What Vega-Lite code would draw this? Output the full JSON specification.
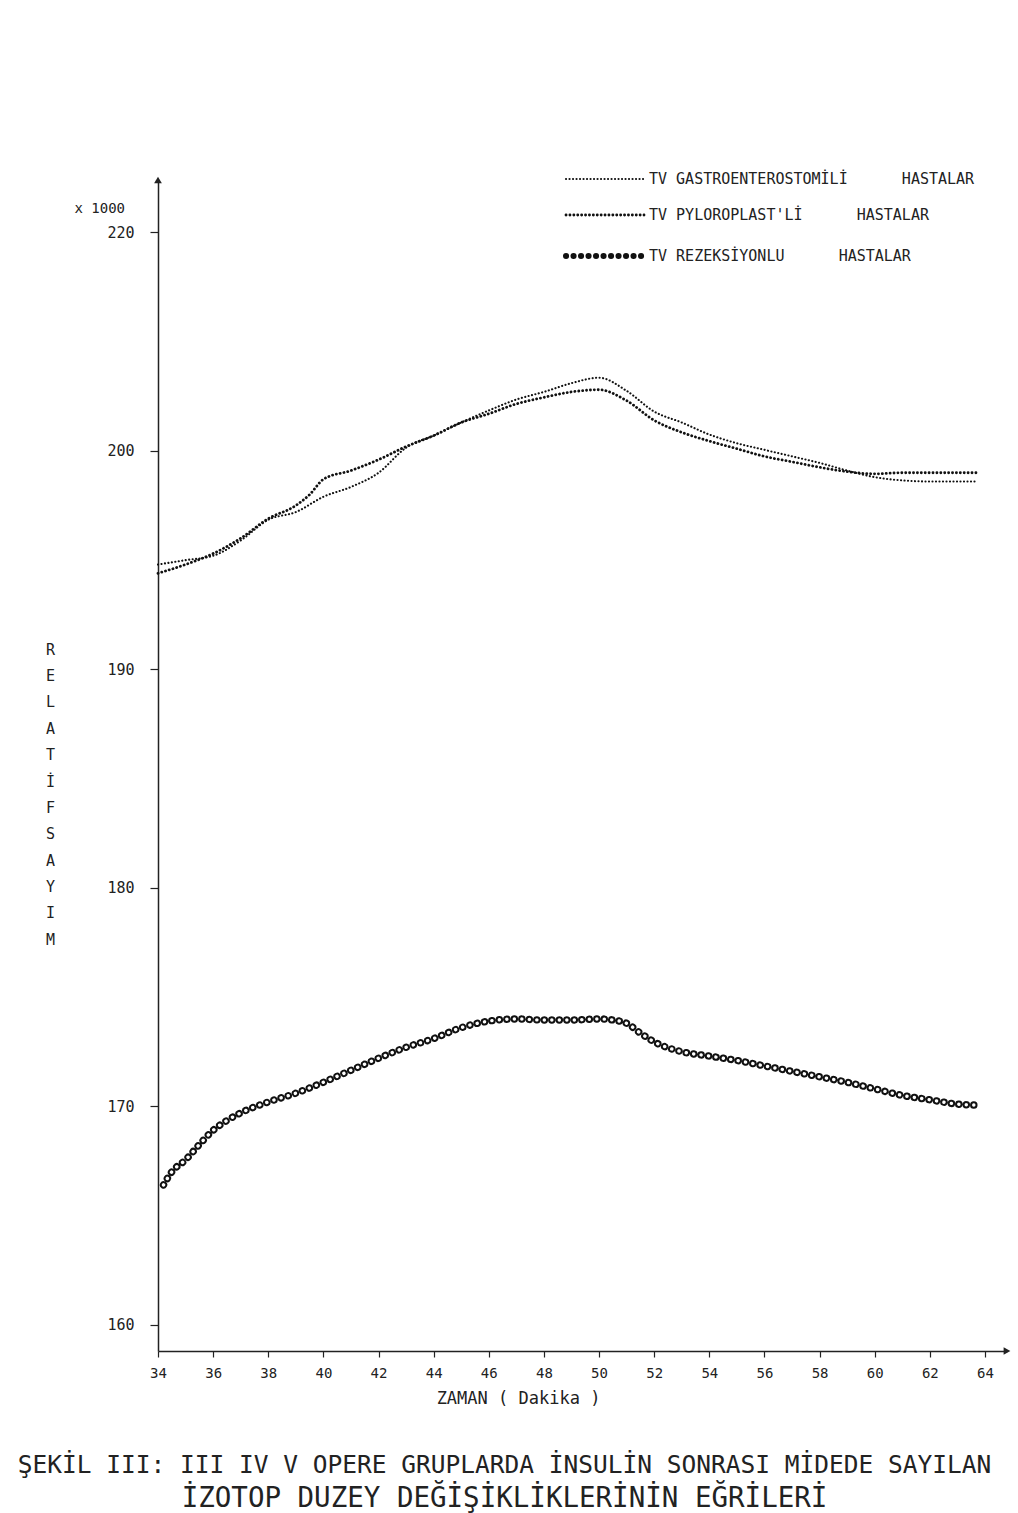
{
  "$schema": "https://vega.github.io/schema/vega-lite/v6.json",
  "autosize": "none",
  "width": 849,
  "height": 1171,
  "padding": {"left": 158, "top": 180, "right": 11, "bottom": 162},
  "background": "white",
  "config": {"view": {"stroke": null}, "font": "DejaVu Sans Mono"},
  "title": {
    "text": "ŞEKİL III: III IV V  OPERE GRUPLARDA İNSULİN SONRASI MİDEDE SAYILAN",
    "subtitle": "İZOTOP DUZEY DEĞİŞİKLİKLERİNİN EĞRİLERİ",
    "orient": "bottom",
    "anchor": "middle",
    "frame": "group",
    "dx": -78,
    "offset": 48,
    "font": "DejaVu Sans Mono",
    "fontSize": 24.5,
    "fontWeight": "normal",
    "color": "#222",
    "subtitleFont": "DejaVu Sans Mono",
    "subtitleFontSize": 27.5,
    "subtitleColor": "#222",
    "subtitlePadding": 6
  },
  "datasets": {
    "curves": [
      {"minute": 34, "count": 194.8, "group": "TV GASTROENTEROSTOMİLİ HASTALAR"},
      {"minute": 35, "count": 195.0, "group": "TV GASTROENTEROSTOMİLİ HASTALAR"},
      {"minute": 36, "count": 195.2, "group": "TV GASTROENTEROSTOMİLİ HASTALAR"},
      {"minute": 37, "count": 195.9, "group": "TV GASTROENTEROSTOMİLİ HASTALAR"},
      {"minute": 38, "count": 196.85, "group": "TV GASTROENTEROSTOMİLİ HASTALAR"},
      {"minute": 39, "count": 197.2, "group": "TV GASTROENTEROSTOMİLİ HASTALAR"},
      {"minute": 40, "count": 197.9, "group": "TV GASTROENTEROSTOMİLİ HASTALAR"},
      {"minute": 41, "count": 198.35, "group": "TV GASTROENTEROSTOMİLİ HASTALAR"},
      {"minute": 42, "count": 199.0, "group": "TV GASTROENTEROSTOMİLİ HASTALAR"},
      {"minute": 43, "count": 200.15, "group": "TV GASTROENTEROSTOMİLİ HASTALAR"},
      {"minute": 44, "count": 200.7, "group": "TV GASTROENTEROSTOMİLİ HASTALAR"},
      {"minute": 45, "count": 201.3, "group": "TV GASTROENTEROSTOMİLİ HASTALAR"},
      {"minute": 46, "count": 201.85, "group": "TV GASTROENTEROSTOMİLİ HASTALAR"},
      {"minute": 47, "count": 202.35, "group": "TV GASTROENTEROSTOMİLİ HASTALAR"},
      {"minute": 48, "count": 202.7, "group": "TV GASTROENTEROSTOMİLİ HASTALAR"},
      {"minute": 49, "count": 203.1, "group": "TV GASTROENTEROSTOMİLİ HASTALAR"},
      {"minute": 50, "count": 203.35, "group": "TV GASTROENTEROSTOMİLİ HASTALAR"},
      {"minute": 51, "count": 202.75, "group": "TV GASTROENTEROSTOMİLİ HASTALAR"},
      {"minute": 52, "count": 201.8, "group": "TV GASTROENTEROSTOMİLİ HASTALAR"},
      {"minute": 53, "count": 201.3, "group": "TV GASTROENTEROSTOMİLİ HASTALAR"},
      {"minute": 54, "count": 200.75, "group": "TV GASTROENTEROSTOMİLİ HASTALAR"},
      {"minute": 55, "count": 200.35, "group": "TV GASTROENTEROSTOMİLİ HASTALAR"},
      {"minute": 56, "count": 200.05, "group": "TV GASTROENTEROSTOMİLİ HASTALAR"},
      {"minute": 57, "count": 199.75, "group": "TV GASTROENTEROSTOMİLİ HASTALAR"},
      {"minute": 58, "count": 199.45, "group": "TV GASTROENTEROSTOMİLİ HASTALAR"},
      {"minute": 59, "count": 199.1, "group": "TV GASTROENTEROSTOMİLİ HASTALAR"},
      {"minute": 60, "count": 198.8, "group": "TV GASTROENTEROSTOMİLİ HASTALAR"},
      {"minute": 61, "count": 198.65, "group": "TV GASTROENTEROSTOMİLİ HASTALAR"},
      {"minute": 62, "count": 198.6, "group": "TV GASTROENTEROSTOMİLİ HASTALAR"},
      {"minute": 63, "count": 198.6, "group": "TV GASTROENTEROSTOMİLİ HASTALAR"},
      {"minute": 63.7, "count": 198.6, "group": "TV GASTROENTEROSTOMİLİ HASTALAR"},
      {"minute": 34, "count": 194.4, "group": "TV PYLOROPLAST'Lİ HASTALAR"},
      {"minute": 35, "count": 194.8, "group": "TV PYLOROPLAST'Lİ HASTALAR"},
      {"minute": 36, "count": 195.3, "group": "TV PYLOROPLAST'Lİ HASTALAR"},
      {"minute": 37, "count": 196.0, "group": "TV PYLOROPLAST'Lİ HASTALAR"},
      {"minute": 38, "count": 196.9, "group": "TV PYLOROPLAST'Lİ HASTALAR"},
      {"minute": 39, "count": 197.5, "group": "TV PYLOROPLAST'Lİ HASTALAR"},
      {"minute": 39.5, "count": 198.0, "group": "TV PYLOROPLAST'Lİ HASTALAR"},
      {"minute": 40, "count": 198.7, "group": "TV PYLOROPLAST'Lİ HASTALAR"},
      {"minute": 41, "count": 199.1, "group": "TV PYLOROPLAST'Lİ HASTALAR"},
      {"minute": 42, "count": 199.6, "group": "TV PYLOROPLAST'Lİ HASTALAR"},
      {"minute": 43, "count": 200.2, "group": "TV PYLOROPLAST'Lİ HASTALAR"},
      {"minute": 44, "count": 200.7, "group": "TV PYLOROPLAST'Lİ HASTALAR"},
      {"minute": 45, "count": 201.3, "group": "TV PYLOROPLAST'Lİ HASTALAR"},
      {"minute": 46, "count": 201.7, "group": "TV PYLOROPLAST'Lİ HASTALAR"},
      {"minute": 47, "count": 202.15, "group": "TV PYLOROPLAST'Lİ HASTALAR"},
      {"minute": 48, "count": 202.45, "group": "TV PYLOROPLAST'Lİ HASTALAR"},
      {"minute": 49, "count": 202.7, "group": "TV PYLOROPLAST'Lİ HASTALAR"},
      {"minute": 50, "count": 202.8, "group": "TV PYLOROPLAST'Lİ HASTALAR"},
      {"minute": 51, "count": 202.3, "group": "TV PYLOROPLAST'Lİ HASTALAR"},
      {"minute": 52, "count": 201.4, "group": "TV PYLOROPLAST'Lİ HASTALAR"},
      {"minute": 53, "count": 200.85, "group": "TV PYLOROPLAST'Lİ HASTALAR"},
      {"minute": 54, "count": 200.45, "group": "TV PYLOROPLAST'Lİ HASTALAR"},
      {"minute": 55, "count": 200.1, "group": "TV PYLOROPLAST'Lİ HASTALAR"},
      {"minute": 56, "count": 199.75, "group": "TV PYLOROPLAST'Lİ HASTALAR"},
      {"minute": 57, "count": 199.5, "group": "TV PYLOROPLAST'Lİ HASTALAR"},
      {"minute": 58, "count": 199.25, "group": "TV PYLOROPLAST'Lİ HASTALAR"},
      {"minute": 59, "count": 199.05, "group": "TV PYLOROPLAST'Lİ HASTALAR"},
      {"minute": 60, "count": 198.95, "group": "TV PYLOROPLAST'Lİ HASTALAR"},
      {"minute": 61, "count": 199.0, "group": "TV PYLOROPLAST'Lİ HASTALAR"},
      {"minute": 62, "count": 199.0, "group": "TV PYLOROPLAST'Lİ HASTALAR"},
      {"minute": 63, "count": 199.0, "group": "TV PYLOROPLAST'Lİ HASTALAR"},
      {"minute": 63.7, "count": 199.0, "group": "TV PYLOROPLAST'Lİ HASTALAR"},
      {"minute": 34.2, "count": 166.4, "group": "TV REZEKSİYONLU HASTALAR"},
      {"minute": 34.5, "count": 167.0, "group": "TV REZEKSİYONLU HASTALAR"},
      {"minute": 35, "count": 167.55, "group": "TV REZEKSİYONLU HASTALAR"},
      {"minute": 35.5, "count": 168.25, "group": "TV REZEKSİYONLU HASTALAR"},
      {"minute": 36, "count": 168.9, "group": "TV REZEKSİYONLU HASTALAR"},
      {"minute": 36.5, "count": 169.35, "group": "TV REZEKSİYONLU HASTALAR"},
      {"minute": 37, "count": 169.7, "group": "TV REZEKSİYONLU HASTALAR"},
      {"minute": 38, "count": 170.2, "group": "TV REZEKSİYONLU HASTALAR"},
      {"minute": 39, "count": 170.6, "group": "TV REZEKSİYONLU HASTALAR"},
      {"minute": 40, "count": 171.1, "group": "TV REZEKSİYONLU HASTALAR"},
      {"minute": 41, "count": 171.65, "group": "TV REZEKSİYONLU HASTALAR"},
      {"minute": 42, "count": 172.2, "group": "TV REZEKSİYONLU HASTALAR"},
      {"minute": 43, "count": 172.7, "group": "TV REZEKSİYONLU HASTALAR"},
      {"minute": 44, "count": 173.1, "group": "TV REZEKSİYONLU HASTALAR"},
      {"minute": 45, "count": 173.6, "group": "TV REZEKSİYONLU HASTALAR"},
      {"minute": 46, "count": 173.9, "group": "TV REZEKSİYONLU HASTALAR"},
      {"minute": 47, "count": 174.0, "group": "TV REZEKSİYONLU HASTALAR"},
      {"minute": 48, "count": 173.95, "group": "TV REZEKSİYONLU HASTALAR"},
      {"minute": 49, "count": 173.95, "group": "TV REZEKSİYONLU HASTALAR"},
      {"minute": 50, "count": 174.0, "group": "TV REZEKSİYONLU HASTALAR"},
      {"minute": 50.5, "count": 173.95, "group": "TV REZEKSİYONLU HASTALAR"},
      {"minute": 51, "count": 173.8, "group": "TV REZEKSİYONLU HASTALAR"},
      {"minute": 51.5, "count": 173.35, "group": "TV REZEKSİYONLU HASTALAR"},
      {"minute": 52, "count": 172.95, "group": "TV REZEKSİYONLU HASTALAR"},
      {"minute": 53, "count": 172.5, "group": "TV REZEKSİYONLU HASTALAR"},
      {"minute": 54, "count": 172.3, "group": "TV REZEKSİYONLU HASTALAR"},
      {"minute": 55, "count": 172.1, "group": "TV REZEKSİYONLU HASTALAR"},
      {"minute": 56, "count": 171.85, "group": "TV REZEKSİYONLU HASTALAR"},
      {"minute": 57, "count": 171.6, "group": "TV REZEKSİYONLU HASTALAR"},
      {"minute": 58, "count": 171.35, "group": "TV REZEKSİYONLU HASTALAR"},
      {"minute": 59, "count": 171.1, "group": "TV REZEKSİYONLU HASTALAR"},
      {"minute": 60, "count": 170.8, "group": "TV REZEKSİYONLU HASTALAR"},
      {"minute": 61, "count": 170.5, "group": "TV REZEKSİYONLU HASTALAR"},
      {"minute": 62, "count": 170.3, "group": "TV REZEKSİYONLU HASTALAR"},
      {"minute": 63, "count": 170.1, "group": "TV REZEKSİYONLU HASTALAR"},
      {"minute": 63.8, "count": 170.05, "group": "TV REZEKSİYONLU HASTALAR"}
    ]
  },
  "layer": [
    {
      "data": {"name": "curves"},
      "mark": {"type": "line", "interpolate": "monotone", "color": "#111", "strokeCap": "round"},
      "encoding": {
        "x": {
          "field": "minute", "type": "quantitative",
          "scale": {"domain": [34, 64.8], "nice": false, "zero": false},
          "axis": {
            "values": [34, 36, 38, 40, 42, 44, 46, 48, 50, 52, 54, 56, 58, 60, 62, 64],
            "format": "d",
            "grid": false,
            "labelFlush": false,
            "domainColor": "#222", "domainWidth": 1.5,
            "tickColor": "#222", "tickSize": 6, "tickWidth": 1.2,
            "labelFont": "DejaVu Sans Mono", "labelFontSize": 14, "labelPadding": 9, "labelColor": "#222",
            "title": "ZAMAN ( Dakika )",
            "titleFont": "DejaVu Sans Mono",
            "titleFontSize": 17, "titleFontWeight": "normal", "titleColor": "#222",
            "titleAlign": "center", "titleBaseline": "middle",
            "titleX": 360, "titleY": 47
          }
        },
        "y": {
          "field": "count", "type": "quantitative",
          "scale": {"domain": [158.8, 212.4], "nice": false, "zero": false},
          "axis": {
            "values": [160, 170, 180, 190, 200, 210],
            "labelExpr": "datum.value == 210 ? '220' : datum.label",
            "grid": false,
            "domainColor": "#222", "domainWidth": 1.5,
            "tickColor": "#222", "tickSize": 8, "tickWidth": 1.2,
            "labelFont": "DejaVu Sans Mono", "labelFontSize": 15, "labelPadding": 16, "labelColor": "#222",
            "title": ["R", "E", "L", "A", "T", "İ", "F", "S", "A", "Y", "I", "M"],
            "titleFont": "DejaVu Sans Mono",
            "titleAngle": 0, "titleAlign": "center", "titleBaseline": "top",
            "titleX": -108, "titleY": 462, "titleLineHeight": 26.4,
            "titleFontSize": 15, "titleFontWeight": "normal", "titleColor": "#222"
          }
        },
        "strokeDash": {
          "field": "group", "type": "nominal",
          "scale": {
            "domain": ["TV GASTROENTEROSTOMİLİ HASTALAR", "TV PYLOROPLAST'Lİ HASTALAR", "TV REZEKSİYONLU HASTALAR"],
            "range": [[0.1, 3.4], [0.1, 3.8], [0.1, 7.4]]
          },
          "legend": {
            "orient": "none", "legendX": 439.5, "legendY": -8.5,
            "title": null, "symbolType": "M-2,0H2", "symbolSize": 1521,
            "symbolStrokeColor": "#111", "symbolFillColor": "transparent",
            "labelFont": "DejaVu Sans Mono", "labelFontSize": 15, "labelColor": "#222",
            "labelOffset": 36.5, "rowPadding": 20, "labelLimit": 0,
            "labelExpr": "replace(datum.label, ' HASTALAR', '\u00a0\u00a0\u00a0\u00a0\u00a0\u00a0HASTALAR')",
            "encode": {"symbols": {"update": {
              "strokeCap": {"value": "round"},
              "strokeWidth": {"signal": "datum.value == 'TV REZEKSİYONLU HASTALAR' ? 6 : (datum.value == 'TV PYLOROPLAST\\'Lİ HASTALAR' ? 2.8 : 2.1)"}
            }}}
          }
        },
        "strokeWidth": {
          "condition": [
            {"test": "datum.group == 'TV REZEKSİYONLU HASTALAR'", "value": 7.4},
            {"test": "datum.group == 'TV PYLOROPLAST\\'Lİ HASTALAR'", "value": 2.8}
          ],
          "value": 2.1
        }
      }
    },
    {
      "data": {"name": "curves"},
      "transform": [{"filter": "datum.group == 'TV REZEKSİYONLU HASTALAR'"}],
      "mark": {"type": "line", "interpolate": "monotone", "color": "white", "strokeWidth": 3.4, "strokeDash": [0.1, 7.4], "strokeCap": "round"},
      "encoding": {
        "x": {"field": "minute", "type": "quantitative"},
        "y": {"field": "count", "type": "quantitative"}
      }
    },
    {
      "data": {"values": [{}]},
      "mark": {"type": "text", "align": "right", "baseline": "middle", "dx": -33, "font": "DejaVu Sans Mono", "fontSize": 14, "color": "#222"},
      "encoding": {
        "x": {"datum": 34},
        "y": {"datum": 211.05},
        "text": {"value": "x 1000"}
      }
    },
    {
      "data": {"values": [{}]},
      "mark": {"type": "point", "shape": "triangle-up", "filled": true, "size": 60, "color": "#222", "opacity": 1},
      "encoding": {"x": {"datum": 34}, "y": {"datum": 212.4}}
    },
    {
      "data": {"values": [{}]},
      "mark": {"type": "point", "shape": "triangle-right", "filled": true, "size": 60, "color": "#222", "opacity": 1},
      "encoding": {"x": {"datum": 64.8}, "y": {"datum": 158.8}}
    }
  ]
}
